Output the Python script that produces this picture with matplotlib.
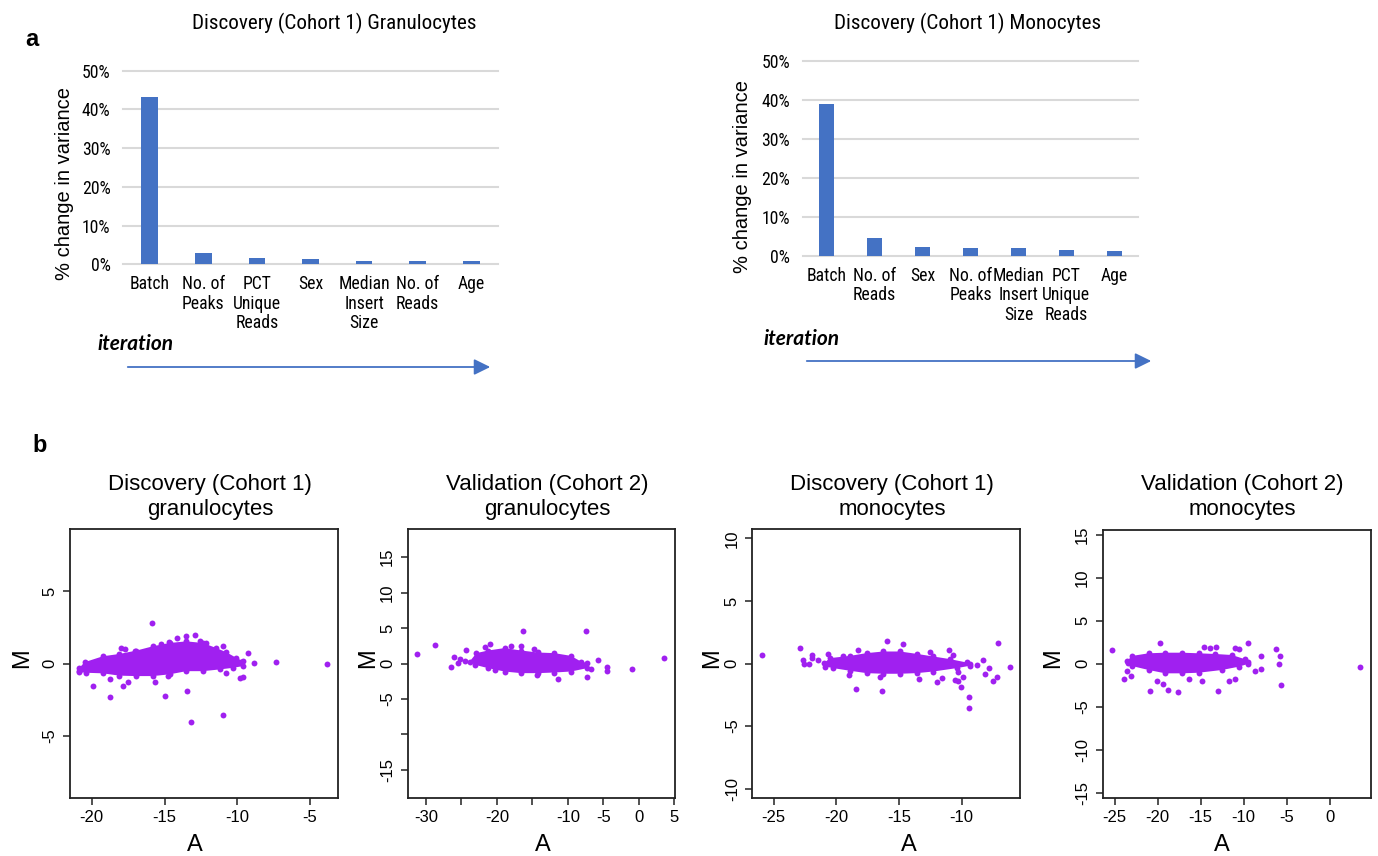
import matplotlib
matplotlib.use("Agg")
import matplotlib.pyplot as plt
from matplotlib import font_manager as fm
from matplotlib.patches import FancyArrowPatch
from matplotlib.textpath import TextPath

W, H = 1378, 856

# ---- panel a: % change in variance per removed factor
gran_factors = ["Batch", "No. of\nPeaks", "PCT\nUnique\nReads", "Sex",
                "Median\nInsert\nSize", "No. of\nReads", "Age"]
gran_change = [43.3, 3.0, 1.6, 1.4, 0.95, 0.95, 0.8]

mono_factors = ["Batch", "No. of\nReads", "Sex", "No. of\nPeaks",
                "Median\nInsert\nSize", "PCT\nUnique\nReads", "Age"]
mono_change = [39.1, 4.6, 2.3, 1.9, 1.9, 1.5, 1.2]

pct_ticks = [0, 10, 20, 30, 40, 50]

# ---- panel b: MA plots (dense core outline + individual points)
dg_core_a = [-20.85, -20.5, -19.24, -18.1, -16.95, -15.8, -14.65, -13.5, -12.36,
             -11.44, -10.75, -10.06, -9.6, -9.6, -10.3, -11.2, -12.36, -13.5,
             -14.65, -15.8, -16.95, -18.1, -19.24, -20.39, -20.9]
dg_core_m = [-0.30, 0.09, 0.5, 0.66, 0.89, 1.19, 1.42, 1.53, 1.42,
             1.07, 0.78, 0.39, 0.16, -0.18, -0.30, -0.41, -0.53, -0.53,
             -0.75, -0.87, -0.87, -0.84, -0.68, -0.64, -0.6]
dg_pts_a = [-15.87, -12.93, -13.55, -14.13, -12.55, -12.13, -10.98, -9.26, -8.84,
            -7.36, -3.8, -17.98, -17.75, -17.02, -15.23, -14.7, -20.9, -19.93,
            -18.78, -18.78, -17.87, -17.5, -15.64, -14.77, -14.95, -13.48, -13.21,
            -10.96, -10.75, -9.84, -9.61, -9.72]
dg_pts_m = [2.79, 1.99, 1.92, 1.76, 1.58, 1.44, 1.19, 0.73, 0.05,
            0.12, 0.0, 1.07, 1.03, 0.84, 1.35, 1.48, -0.52, -1.55,
            -1.1, -2.31, -1.53, -1.26, -1.28, -0.87, -2.26, -1.9, -4.04,
            -3.56, -0.68, -0.98, -0.91, 0.09]

vg_core_a = [-23.83, -22.89, -21.26, -18.92, -16.58, -14.25, -11.91, -9.57, -8.16,
             -7.24, -7.24, -9.57, -11.91, -14.25, -16.58, -18.92, -21.26, -23.1]
vg_core_m = [0.28, 1.46, 1.83, 2.17, 1.83, 1.55, 1.46, 1.08, 0.28,
             0.05, -0.65, -1.13, -1.27, -1.36, -1.36, -1.13, -0.65, -0.18]
vg_pts_a = [-31.22, -28.74, -26.5, -26.07, -24.3, -16.35, -7.46, -5.74, -4.52,
            -4.52, -0.97, 3.52, -11.39, -7.33, -6.76, -21.02, -21.73, -16.58,
            -14.71, -14.39, -20.32, -17.98, -25.47, -24.54, -25.24]
vg_pts_m = [1.32, 2.59, -0.56, 0.9, 1.97, 4.6, 4.51, 0.48, -0.56,
            -1.03, -0.79, 0.8, -2.2, -1.92, -0.79, 2.73, 2.39, 2.45,
            2.07, -1.69, -0.98, 2.49, 0.14, 0.42, 0.7]

dm_core_a = [-20.99, -20.51, -18.91, -17.58, -16.25, -14.92, -13.59, -12.26, -10.93,
             -9.6, -9.34, -9.34, -10.4, -12.26, -13.59, -14.92, -16.25, -17.58,
             -18.91, -20.24, -20.91]
dm_core_m = [0.03, 0.43, 0.61, 0.83, 0.96, 0.96, 0.77, 0.56, 0.35,
             0.08, -0.03, -0.18, -0.37, -0.64, -0.77, -0.82, -0.82, -0.77,
             -0.58, -0.37, -0.24]
dm_pts_a = [-25.91, -22.9, -22.69, -22.58, -22.15, -21.97, -21.97, -21.49, -15.98,
            -14.7, -18.25, -18.43, -16.36, -11.01, -10.72, -12.53, -7.12, -6.14,
            -8.27, -7.82, -8.11, -7.2, -7.47, -8.8, -9.44, -9.44, -10.08,
            -10.5, -10.26, -10.33, -9.86, -11.99, -11.59, -13.38, -16.5, -18.97,
            -20.68, -19.48]
dm_pts_m = [0.67, 1.23, 0.3, -0.02, -0.02, 0.69, 0.43, 0.25, 1.81,
            1.57, 1.04, -2.02, -2.23, 1.04, 0.69, 0.88, 1.63, -0.29,
            0.3, -0.37, -0.82, -1.04, -1.36, -0.1, -2.68, -3.56, -1.88,
            -1.3, -1.43, -0.69, -1.07, -1.49, -1.12, -1.22, -1.09, -0.9,
            0.75, 0.61]

vm_core_a = [-23.53, -23.0, -21.06, -19.12, -17.18, -15.25, -13.31, -11.37, -9.82,
             -9.5, -9.5, -10.59, -12.52, -15.25, -17.18, -19.12, -21.06, -23.0,
             -23.46]
vm_core_m = [0.35, 0.9, 1.21, 1.28, 1.28, 1.21, 1.13, 1.01, 0.51,
             0.16, -0.03, -0.35, -0.73, -1.05, -1.12, -1.12, -0.73, -0.27,
             0.04]
vm_pts_a = [-25.28, -23.92, -23.55, -23.13, -20.9, -20.04, -19.42, -18.76, -17.67,
            -19.73, -16.33, -14.9, -13.02, -11.66, -11.0, -14.62, -13.92, -13.22,
            -11.0, -10.54, -9.45, -7.99, -7.99, -8.65, -6.24, -5.78, -5.93,
            -5.62, 3.56]
vm_pts_m = [1.59, -1.78, -0.81, -1.43, -3.14, -1.98, -2.36, -3.06, -3.33,
            2.37, -1.82, -1.98, -3.14, -1.98, -1.78, 1.98, 1.78, 1.9,
            1.78, 1.67, 2.37, 0.93, -0.62, -0.85, 1.71, 0.89, 0.0,
            -2.48, -0.42]

BLUE = "#4472C4"
PURPLE = "#A020F0"


def narrow_font():
    """Find a narrow sans font (Excel-style labels); fall back to Liberation Sans."""
    prefs = ["liberation sans narrow", "arial narrow", "roboto condensed",
             "open sans condensed", "noto sans condensed", "dejavu sans condensed"]
    best = None
    for f in fm.fontManager.ttflist:
        path = f.fname.lower()
        if f.style != "normal" or any(k in path for k in ("bold", "italic", "oblique", "light", "mono")):
            continue
        label = (f.name + " " + path.replace("-", " ")).lower()
        cond = "narrow" in label or "condensed" in label or str(f.stretch).endswith("condensed")
        if not cond or ("serif" in label and "sans" not in label):
            continue
        rank = next((i for i, p in enumerate(prefs) if p.replace(" ", "") in label.replace(" ", "")), len(prefs))
        if best is None or rank < best[0]:
            best = (rank, f.fname)
    if best:
        return best[1]
    return fm.findfont("Liberation Sans")


NARROW_FILE = narrow_font()


def nfp(size):
    return fm.FontProperties(fname=NARROW_FILE, size=size)


def ink_width_px(s, size):
    return TextPath((0, 0), s, prop=nfp(size)).get_extents().width * 100 / 72.0


# scale the narrow font so the title's ink width matches the reference (283 px)
k = 283.0 / ink_width_px("Discovery (Cohort 1) Granulocytes", 15)


def fx(x, y):
    """Pixel position -> figure fraction."""
    return x / W, 1 - y / H


def rect(left, top, right, bottom):
    return [left / W, 1 - bottom / H, (right - left) / W, (bottom - top) / H]


plt.rcParams["font.family"] = ["Liberation Sans", "DejaVu Sans"]
fig = plt.figure(figsize=(W / 100, H / 100), dpi=100)


def bar_panel(box, factors, values):
    ax = fig.add_axes(box)
    ax.bar(range(len(values)), values, width=0.31, color=BLUE, zorder=3)
    ax.set_xlim(-0.5, len(values) - 0.5)
    ax.set_ylim(0, 50)
    ax.set_yticks(pct_ticks)
    ax.set_yticklabels(["%d%%" % t for t in pct_ticks], fontproperties=nfp(12.5 * k))
    ax.set_xticks(range(len(values)))
    ax.set_xticklabels(factors, fontproperties=nfp(12.5 * k), linespacing=1.1)
    ax.tick_params(axis="y", length=0, pad=9)
    ax.tick_params(axis="x", length=0, pad=8)
    ax.yaxis.grid(True, color="#D9D9D9", lw=1.5, zorder=0)
    for gl in ax.get_ygridlines():
        gl.set_clip_on(False)
    for s in ax.spines.values():
        s.set_visible(False)
    return ax


bar_panel(rect(123, 70.7, 498, 264.3), gran_factors, gran_change)
bar_panel(rect(802.7, 61.3, 1138.3, 255.7), mono_factors, mono_change)

fig.text(*fx(334, 23), "Discovery (Cohort 1) Granulocytes", fontproperties=nfp(15 * k),
         ha="center", va="center")
fig.text(*fx(967.5, 23), "Discovery (Cohort 1) Monocytes", fontproperties=nfp(15 * k),
         ha="center", va="center")
fig.text(*fx(65, 183.3), "% change in variance", fontsize=14.5, rotation=90,
         ha="center", va="center")
fig.text(*fx(743, 176.7), "% change in variance", fontsize=14.5, rotation=90,
         ha="center", va="center")
for x, y in [(97, 344), (763, 339)]:
    fig.text(*fx(x, y), "iteration", family=["Lato", "DejaVu Sans"],
             fontsize=15, fontweight="bold", fontstyle="italic",
             ha="left", va="center")
for x0, x1, y in [(125, 493, 367), (804, 1154, 361)]:
    fig.add_artist(FancyArrowPatch(fx(x0, y), fx(x1, y), transform=fig.transFigure,
                                   arrowstyle="-|>,head_length=0.65,head_width=0.32",
                                   mutation_scale=15, color=BLUE, lw=1.3))

fig.text(*fx(32, 40), "a", fontsize=17, fontweight="bold", ha="center", va="center")
fig.text(*fx(40, 446), "b", fontsize=17, fontweight="bold", ha="center", va="center")

# ---- panel b
panels = [
    dict(box=(70, 529, 338, 798), core=(dg_core_a, dg_core_m), pts=(dg_pts_a, dg_pts_m),
         xlim=(-21.5, -3.07), ylim=(-9.3, 9.3),
         xt=[-20, -15, -10, -5], xl=["-20", "-15", "-10", "-5"],
         yt=[-5, 0, 5], yl=["-5", "0", "5"],
         title="Discovery (Cohort 1)\ngranulocytes", mx=21.7, ax_x=195),
    dict(box=(407.7, 529, 675, 798), core=(vg_core_a, vg_core_m), pts=(vg_pts_a, vg_pts_m),
         xlim=(-32.57, 5.1), ylim=(-18.95, 18.95),
         xt=[-30, -25, -20, -15, -10, -5, 0, 5],
         xl=["-30", "", "-20", "", "-10", "-5", "0", "5"],
         yt=[-15, -10, -5, 0, 5, 10, 15], yl=["-15", "", "-5", "0", "5", "10", "15"],
         title="Validation (Cohort 2)\ngranulocytes", mx=368.3, ax_x=543.3),
    dict(box=(752.3, 529, 1020, 798), core=(dm_core_a, dm_core_m), pts=(dm_pts_a, dm_pts_m),
         xlim=(-26.7, -5.35), ylim=(-10.75, 10.75),
         xt=[-25, -20, -15, -10], xl=["-25", "-20", "-15", "-10"],
         yt=[-10, -5, 0, 5, 10], yl=["-10", "-5", "0", "5", "10"],
         title="Discovery (Cohort 1)\nmonocytes", mx=711.7, ax_x=909.3),
    dict(box=(1102.7, 529.7, 1370.7, 797.7), core=(vm_core_a, vm_core_m), pts=(vm_pts_a, vm_pts_m),
         xlim=(-26.4, 4.77), ylim=(-15.58, 15.58),
         xt=[-25, -20, -15, -10, -5, 0], xl=["-25", "-20", "-15", "-10", "-5", "0"],
         yt=[-15, -10, -5, 0, 5, 10, 15], yl=["-15", "-10", "-5", "0", "5", "10", "15"],
         title="Validation (Cohort 2)\nmonocytes", mx=1053.3, ax_x=1222.3),
]

for p in panels:
    left, top, right, bottom = p["box"]
    ax = fig.add_axes(rect(left, top, right, bottom))
    ca, cm = p["core"]
    ax.fill(ca, cm, color=PURPLE, lw=0)
    ax.scatter(ca, cm, s=18, color=PURPLE, linewidths=0)
    ax.scatter(p["pts"][0], p["pts"][1], s=18, color=PURPLE, linewidths=0)
    ax.set_xlim(*p["xlim"])
    ax.set_ylim(*p["ylim"])
    ax.set_xticks(p["xt"])
    ax.set_xticklabels(p["xl"], fontsize=12)
    ax.set_yticks(p["yt"])
    ax.set_yticklabels(p["yl"], fontsize=12, rotation=90, va="center")
    ax.tick_params(length=5, width=1.1, color="#222222", pad=4)
    for s in ax.spines.values():
        s.set_linewidth(1.3)
        s.set_color("#222222")
    cx = (left + right) / 2 + 6
    fig.text(*fx(cx, 497), p["title"], fontsize=16, ha="center", va="center",
             linespacing=1.2)
    fig.text(*fx(p["mx"], 658), "M", fontsize=17, rotation=90, ha="center", va="center")
    fig.text(*fx(p["ax_x"], 845), "A", fontsize=17, ha="center", va="center")

fig.savefig("out.png", dpi=100)
